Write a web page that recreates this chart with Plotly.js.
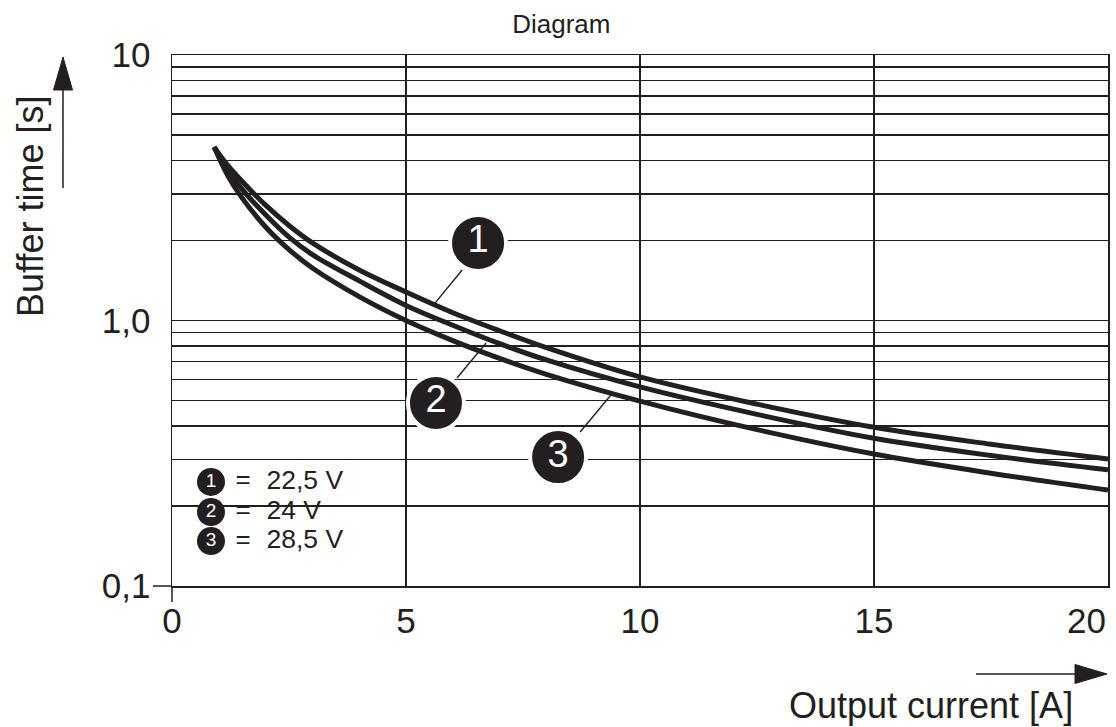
<!DOCTYPE html>
<html>
<head>
<meta charset="utf-8">
<script src="https://cdn.plot.ly/plotly-3.0.1.min.js"></script>
<style>
  html, body { margin: 0; padding: 0; background: #ffffff; }
  #chart { width: 1116px; height: 727px; }
</style>
</head>
<body>
<div id="chart"></div>
<script>
// ---- data ----
const outputCurrent = [0.9, 1.2, 1.5, 2, 2.5, 3, 4, 5, 6, 7, 8, 10, 12.5, 15, 17.5, 20];
const bufferTime225 = [4.5, 3.82, 3.34, 2.72, 2.28, 1.96, 1.55, 1.28, 1.07, 0.915, 0.79, 0.613, 0.484, 0.396, 0.342, 0.301];
const bufferTime24  = [4.5, 3.67, 3.12, 2.50, 2.06, 1.77, 1.41, 1.14, 0.96, 0.818, 0.71, 0.562, 0.443, 0.360, 0.310, 0.274];
const bufferTime285 = [4.5, 3.49, 2.89, 2.25, 1.85, 1.577, 1.23, 1.00, 0.84, 0.72, 0.627, 0.497, 0.388, 0.314, 0.266, 0.230];

const curveNumbers = ['1', '2', '3'];
const curveVoltages = ['22,5 V', '24 V', '28,5 V'];

const xTickVals = [0, 5, 10, 15, 20];
const xTickText = ['0', '5', '10', '15', '20'];
const yTickVals = [0.1, 1, 10];
const yTickText = ['0,1', '1,0', '10'];
const yMinorVals = [0.2, 0.3, 0.4, 0.5, 0.6, 0.7, 0.8, 0.9, 2, 3, 4, 5, 6, 7, 8, 9];

// call-out label positions (x in A, y in s)
const calloutX = [6.54, 5.64, 8.25];
const calloutY = [1.96, 0.489, 0.306];
// leader lines: from circle edge to the curve
const leaderX = [6.20, 5.58, null, 6.71, 6.09, null, 9.38, 8.72];
const leaderY = [1.55, 1.14, null, 0.823, 0.607, null, 0.524, 0.38];

// legend key positions
const keyX = [0.833, 0.833, 0.833];
const keyY = [0.2465, 0.190, 0.1477];
const keyEqX = [1.52, 1.52, 1.52];
const keyTextX = [2.02, 2.02, 2.02];

// ---- styling ----
const INK = '#231f20';
const FONT = 'Liberation Sans, Arial, Helvetica, sans-serif';
const TICK_SIZE = 35;

// plot area in pixels (for decorative arrows)
const L = 172, R = 1108, T = 55, B = 586;
const px = v => (v - L) / (R - L);
const py = v => (B - v) / (B - T);

function curve(y) {
  return {
    x: outputCurrent, y: y, type: 'scatter', mode: 'lines',
    line: { color: INK, width: 5, shape: 'spline', smoothing: 1 },
    hoverinfo: 'skip', showlegend: false, cliponaxis: true
  };
}

const traces = [
  curve(bufferTime225),
  curve(bufferTime24),
  curve(bufferTime285),
  {
    x: leaderX, y: leaderY, type: 'scatter', mode: 'lines',
    line: { color: INK, width: 1.4 }, hoverinfo: 'skip', showlegend: false
  },
  {
    x: calloutX, y: calloutY, type: 'scatter', mode: 'markers+text',
    text: curveNumbers, textposition: 'middle center',
    textfont: { family: FONT, size: 38, color: '#ffffff' },
    marker: { size: 56, color: INK, line: { color: '#ffffff', width: 4 } },
    hoverinfo: 'skip', showlegend: false, cliponaxis: false
  },
  {
    x: keyX, y: keyY, type: 'scatter', mode: 'markers+text',
    text: curveNumbers, textposition: 'middle center',
    textfont: { family: FONT, size: 19, color: '#ffffff' },
    marker: { size: 28, color: INK, line: { width: 0 } },
    hoverinfo: 'skip', showlegend: false, cliponaxis: false
  },
  {
    x: keyEqX, y: keyY, type: 'scatter', mode: 'text',
    text: ['=', '=', '='], textposition: 'middle center',
    textfont: { family: FONT, size: 26, color: INK },
    hoverinfo: 'skip', showlegend: false, cliponaxis: false
  },
  {
    x: keyTextX, y: keyY, type: 'scatter', mode: 'text',
    text: curveVoltages, textposition: 'middle right',
    textfont: { family: FONT, size: 26.5, color: INK },
    hoverinfo: 'skip', showlegend: false, cliponaxis: false
  }
];

// the last x tick label sits flush with the right edge in the reference,
// so it is drawn right-aligned at its tick instead of centred
const lastIdx = xTickVals.length - 1;
const axisTickText = xTickText.map((t, i) => i === lastIdx ? '' : t);

const layout = {
  width: 1116, height: 727,
  paper_bgcolor: '#ffffff', plot_bgcolor: '#ffffff',
  margin: { l: L, r: 1116 - R, t: T, b: 727 - B, pad: 0 },
  font: { family: FONT, color: INK },
  title: {
    text: 'Diagram', font: { family: FONT, size: 26, color: INK },
    x: 0.503, xref: 'container', xanchor: 'center',
    y: 1 - 24 / 727, yref: 'container', yanchor: 'middle'
  },
  xaxis: {
    range: [0, 20], type: 'linear',
    tickmode: 'array', tickvals: xTickVals, ticktext: axisTickText,
    ticks: '', showgrid: true, gridcolor: INK, gridwidth: 1.5,
    zeroline: false, showline: true, mirror: true, linecolor: INK, linewidth: 1.5,
    tickfont: { family: FONT, size: TICK_SIZE, color: INK },
    ticklabelstandoff: 3, fixedrange: true
  },
  yaxis: {
    type: 'log', range: [-1, 1],
    tickmode: 'array', tickvals: yTickVals, ticktext: yTickText,
    ticks: '', showgrid: true, gridcolor: INK, gridwidth: 1.5,
    minor: {
      tickmode: 'array', tickvals: yMinorVals,
      showgrid: true, gridcolor: INK, gridwidth: 1.5,
      ticks: 'inside', ticklen: 10, tickcolor: INK, tickwidth: 1.5
    },
    zeroline: false, showline: true, mirror: true, linecolor: INK, linewidth: 1.5,
    tickfont: { family: FONT, size: TICK_SIZE, color: INK },
    ticklabelstandoff: 13, ticklabeloverflow: 'allow', fixedrange: true
  },
  shapes: [
    // white panel behind the key
    { type: 'rect', xref: 'x', yref: 'paper', x0: 0, x1: 4.53,
      y0: (Math.log10(0.17) + 1) / 2, y1: (Math.log10(0.36) + 1) / 2,
      fillcolor: '#ffffff', line: { width: 0 }, layer: 'between' },
    // corner ticks at the origin
    { type: 'line', xref: 'paper', yref: 'paper', x0: 0, x1: 0, y0: 0, y1: py(602),
      line: { color: INK, width: 1.5 }, layer: 'above' },
    { type: 'line', xref: 'paper', yref: 'paper', x0: px(153), x1: 0, y0: 0, y1: 0,
      line: { color: INK, width: 1.5 }, layer: 'above' },
    // y-axis arrow
    { type: 'line', xref: 'paper', yref: 'paper', x0: px(63), x1: px(63), y0: py(188), y1: py(86),
      line: { color: INK, width: 1.5 }, layer: 'above' },
    { type: 'path', xref: 'paper', yref: 'paper',
      path: `M ${px(63)} ${py(57)} L ${px(72.5)} ${py(90)} L ${px(53.5)} ${py(90)} Z`,
      fillcolor: INK, line: { color: INK, width: 1 }, layer: 'above' },
    // x-axis arrow
    { type: 'line', xref: 'paper', yref: 'paper', x0: px(976), x1: px(1078), y0: py(674), y1: py(674),
      line: { color: INK, width: 1.5 }, layer: 'above' },
    { type: 'path', xref: 'paper', yref: 'paper',
      path: `M ${px(1107)} ${py(674)} L ${px(1075)} ${py(664.5)} L ${px(1075)} ${py(683.5)} Z`,
      fillcolor: INK, line: { color: INK, width: 1 }, layer: 'above' }
  ],
  annotations: [
    { text: xTickText[lastIdx], xref: 'x', yref: 'paper', x: xTickVals[lastIdx], y: py(620),
      xanchor: 'right', yanchor: 'middle', showarrow: false,
      font: { family: FONT, size: TICK_SIZE, color: INK } },
    { text: 'Buffer time [s]', xref: 'paper', yref: 'paper', x: px(30), y: py(207),
      xanchor: 'center', yanchor: 'middle', textangle: -90, showarrow: false,
      font: { family: FONT, size: 36, color: INK } },
    { text: 'Output current [A]', xref: 'paper', yref: 'paper', x: px(931), y: py(705),
      xanchor: 'center', yanchor: 'middle', showarrow: false,
      font: { family: FONT, size: 36, color: INK } }
  ]
};

Plotly.newPlot('chart', traces, layout, { staticPlot: true, displayModeBar: false });
</script>
</body>
</html>
